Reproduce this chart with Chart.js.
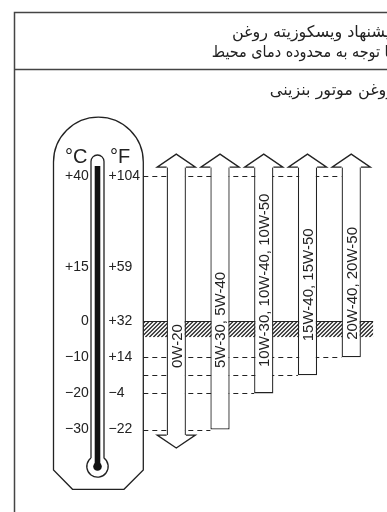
<!DOCTYPE html>
<html>
<head>
<meta charset="utf-8">
<script src="https://cdn.jsdelivr.net/npm/chart.js@4.4.1/dist/chart.umd.min.js"></script>
<style>
  html, body { margin: 0; padding: 0; background: #fff; }
  canvas { display: block; }
</style>
</head>
<body>
<canvas id="chart" width="387" height="512"></canvas>
<script>
// oil grades and the ambient range (°C) each one covers
var grades = ['0W-20', '5W-30, 5W-40', '10W-30, 10W-40, 10W-50', '15W-40, 15W-50', '20W-40, 20W-50'];
var lowC = [-31.5, -30, -20, -15, -10];
var highC = [42.5, 42.5, 42.5, 42.5, 42.5];
var openBottom = [true, false, false, false, false];

// thermometer scale
var tickC = [40, 15, 0, -10, -20, -30];
var tickCLabels = ['+40', '+15', '0', '\u221210', '\u221220', '\u221230'];
var tickFLabels = ['+104', '+59', '+32', '+14', '\u22124', '\u221222'];
var topLevel = 40;
var freezeBand = [0, -4.5];

var titleLines = ['پیشنهاد ویسکوزیته روغن', 'با توجه به محدوده دمای محیط'];
var subTitle = 'روغن موتور بنزینی';

// where each grade label starts (°C), labels read bottom to top
var labelStartC = [-13, -13, -12.7, -5.6, -5.2];

var INK = '#222';

var framePlugin = {
  id: 'frame',
  beforeDraw: function(chart) {
    var ctx = chart.ctx;
    ctx.save();
    ctx.fillStyle = '#fff';
    ctx.fillRect(0, 0, chart.width, chart.height);
    ctx.strokeStyle = '#444';
    ctx.lineWidth = 1.5;
    ctx.beginPath();
    ctx.moveTo(14.5, 512); ctx.lineTo(14.5, 12.5); ctx.lineTo(387, 12.5);
    ctx.moveTo(14.5, 69.5); ctx.lineTo(387, 69.5);
    ctx.stroke();

    ctx.fillStyle = INK;
    ctx.textAlign = 'right';
    ctx.textBaseline = 'alphabetic';
    ctx.direction = 'rtl';
    ctx.font = '16px "DejaVu Sans"';
    ctx.fillText(titleLines[0], 395, 37);
    ctx.font = '16px "DejaVu Sans Condensed", "DejaVu Sans"';
    ctx.fillText(titleLines[1], 393, 57);
    ctx.font = '16px "DejaVu Sans"';
    ctx.fillText(subTitle, 394, 95);
    ctx.restore();
  }
};

var thermoPlugin = {
  id: 'thermo',
  afterDraw: function(chart) {
    var ctx = chart.ctx;
    var y = chart.scales.y;
    ctx.save();
    ctx.strokeStyle = INK;
    ctx.lineWidth = 1.3;
    // body
    ctx.beginPath();
    ctx.moveTo(53.5, 470);
    ctx.lineTo(53.5, 162);
    ctx.arc(98.4, 162, 44.9, Math.PI, 2 * Math.PI);
    ctx.lineTo(143.3, 470);
    ctx.lineTo(124, 489.3);
    ctx.lineTo(72.5, 489.3);
    ctx.closePath();
    ctx.stroke();
    // glass tube and bulb
    var cx = 97.5, r = 6.5, by = 466.5, br = 10.7;
    var a = Math.asin(r / br);
    var joinY = by - Math.cos(a) * br;
    ctx.beginPath();
    ctx.moveTo(cx - r, joinY);
    ctx.lineTo(cx - r, 161.5);
    ctx.arc(cx, 161.5, r, Math.PI, 2 * Math.PI);
    ctx.lineTo(cx + r, joinY);
    ctx.arc(cx, by, br, -Math.PI / 2 + a, 1.5 * Math.PI - a);
    ctx.stroke();
    // mercury column
    ctx.fillStyle = '#111';
    ctx.fillRect(cx - 2.8, 166, 5.6, by - 166);
    ctx.beginPath();
    ctx.arc(cx, by, 4.3, 0, 2 * Math.PI);
    ctx.fill();

    // units
    ctx.fillStyle = INK;
    ctx.font = '20px "Liberation Sans"';
    ctx.textBaseline = 'alphabetic';
    ctx.textAlign = 'left';
    ctx.fillText('\u00B0C', 65, 163);
    ctx.fillText('\u00B0F', 110, 163);
    // tick labels
    ctx.font = '14px "Liberation Sans"';
    ctx.textBaseline = 'middle';
    tickC.forEach(function(t, i) {
      var py = y.getPixelForValue(t);
      ctx.textAlign = 'right';
      ctx.fillText(tickCLabels[i], 88.7, py);
      ctx.textAlign = 'left';
      ctx.fillText(tickFLabels[i], 108.5, py);
    });
    ctx.restore();
  }
};

var guidePlugin = {
  id: 'guides',
  beforeDatasetsDraw: function(chart) {
    var ctx = chart.ctx;
    var y = chart.scales.y;
    var bars = chart.getDatasetMeta(0).data;
    var x0 = 143.3, x1 = chart.chartArea.right;
    ctx.save();
    // hatched freezing band
    var yt = y.getPixelForValue(freezeBand[0]);
    var yb = y.getPixelForValue(freezeBand[1]);
    ctx.beginPath();
    ctx.rect(x0, yt, x1 - x0, yb - yt);
    ctx.clip();
    ctx.strokeStyle = INK;
    ctx.lineWidth = 1.2;
    ctx.beginPath();
    for (var sx = x0 - 30; sx < x1 + 30; sx += 4) {
      ctx.moveTo(sx, yb);
      ctx.lineTo(sx + (yb - yt), yt);
    }
    ctx.stroke();
    ctx.restore();

    ctx.save();
    ctx.strokeStyle = INK;
    ctx.lineWidth = 1.2;
    ctx.beginPath();
    ctx.moveTo(x0, Math.round(yt) + 0.5);
    ctx.lineTo(x1, Math.round(yt) + 0.5);
    ctx.stroke();

    // dashed level lines
    ctx.lineWidth = 1;
    ctx.setLineDash([5, 4]);
    ctx.beginPath();
    var last = bars[bars.length - 1];
    var ty = Math.round(y.getPixelForValue(topLevel)) + 0.5;
    ctx.moveTo(x0, ty);
    ctx.lineTo(last.x - last.width / 2, ty);
    bars.forEach(function(b, i) {
      if (openBottom[i]) return;
      var ly = Math.round(y.getPixelForValue(lowC[i])) + 0.5;
      ctx.moveTo(x0, ly);
      ctx.lineTo(b.x - b.width / 2, ly);
    });
    ctx.stroke();
    ctx.restore();
  }
};

var arrowPlugin = {
  id: 'arrows',
  afterDatasetsDraw: function(chart) {
    var ctx = chart.ctx;
    var y = chart.scales.y;
    var bars = chart.getDatasetMeta(0).data;
    var wing = 9.5, head = 13;
    ctx.save();
    ctx.strokeStyle = INK;
    ctx.lineWidth = 1.3;
    ctx.fillStyle = '#fff';
    bars.forEach(function(b, i) {
      var l = b.x - b.width / 2, r = b.x + b.width / 2;
      var top = Math.min(b.y, b.base), bot = Math.max(b.y, b.base);
      ctx.beginPath();
      ctx.moveTo(l, top);
      ctx.lineTo(l - wing, top);
      ctx.lineTo(b.x, top - head);
      ctx.lineTo(r + wing, top);
      ctx.lineTo(r, top);
      ctx.fill();
      ctx.stroke();
      if (openBottom[i]) {
        ctx.beginPath();
        ctx.moveTo(l, bot);
        ctx.lineTo(l - wing, bot);
        ctx.lineTo(b.x, bot + head);
        ctx.lineTo(r + wing, bot);
        ctx.lineTo(r, bot);
        ctx.fill();
        ctx.stroke();
      }
      // grade label, rotated
      ctx.save();
      ctx.fillStyle = INK;
      ctx.font = '15px "Liberation Sans"';
      ctx.translate(b.x + 5.4, y.getPixelForValue(labelStartC[i]));
      ctx.rotate(-Math.PI / 2);
      ctx.textAlign = 'left';
      ctx.textBaseline = 'alphabetic';
      ctx.fillText(grades[i], 0, 0);
      ctx.restore();
    });
    ctx.restore();
  }
};

new Chart(document.getElementById('chart'), {
  type: 'bar',
  data: {
    labels: grades,
    datasets: [{
      data: grades.map(function(g, i) { return [lowC[i], highC[i]]; }),
      backgroundColor: '#fff',
      borderColor: INK,
      borderSkipped: false,
      borderWidth: function(c) {
        var b = openBottom[c.dataIndex] ? 0 : 1.3;
        return { top: 0, bottom: b, left: 1.3, right: 1.3 };
      },
      categoryPercentage: 1,
      barPercentage: 0.44
    }]
  },
  options: {
    responsive: false,
    devicePixelRatio: 1,
    animation: false,
    layout: { padding: { left: 154.4, right: 13.9, top: 140, bottom: 46.2 } },
    plugins: { legend: { display: false }, tooltip: { enabled: false }, title: { display: false } },
    scales: {
      x: { type: 'category', display: false, offset: true },
      y: { type: 'linear', display: false, min: -40, max: 50 }
    }
  },
  plugins: [framePlugin, guidePlugin, arrowPlugin, thermoPlugin]
});
</script>
</body>
</html>
